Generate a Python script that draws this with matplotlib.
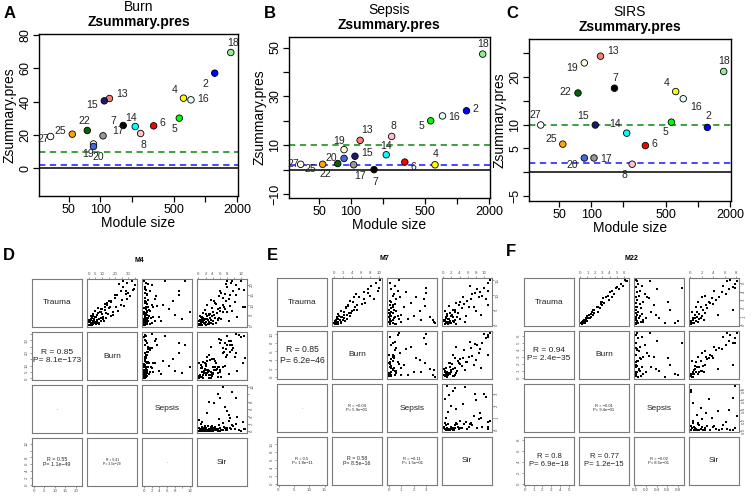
import matplotlib
matplotlib.use('Agg')
import numpy as np
import matplotlib.pyplot as plt
from matplotlib.ticker import NullLocator

plt.rcParams['font.family'] = ['Liberation Sans', 'DejaVu Sans']

W, H = 752, 500

# ---- module preservation data (panels A-C) ----
modules = [2, 4, 5, 6, 7, 8, 13, 14, 15, 16, 17, 18, 19, 20, 22, 25, 27]
module_colors = ['#0000FF', '#FFFF00', '#00FF00', '#FF0000', '#000000', '#FFC0CB',
                 '#FA8072', '#00FFFF', '#191970', '#E0FFFF', '#999999', '#90EE90',
                 '#FFFFE0', '#4169E1', '#006400', '#FFA500', '#FFFFFF']
module_size = [1230, 620, 565, 322, 165, 242, 122, 215, 109, 730, 106, 1750, 86, 86, 75, 54, 33.5]

z_burn = [57, 42, 30, 25.4, 25.6, 20.8, 41.8, 25, 40.4, 41, 19.4, 69.4, 14.5, 13, 22.6, 20.4, 19]
z_sepsis = [24.1, 2.0, 20, 3.1, 0.0, 13.6, 12, 6.1, 5.5, 22, 2.0, 47.3, 8.2, 4.6, 2.5, 2.2, 2.2]
z_sirs = [9.4, 16.9, 10.5, 5.6, 17.6, 1.7, 24.3, 8.2, 9.9, 15.4, 3.0, 21.1, 22.9, 3.0, 16.6, 5.9, 9.9]

# label offsets in pixels (dx, dy) for each module
off_burn = [(-9, -11), (-9, 8), (-5, -11), (9, 3), (-10, 4), (3, -11), (13, 5), (-4, 9), (-12, -4),
            (12, 1), (15, 5), (2, 10), (-5, -10), (5, -11), (-3, 10), (-12, 3), (-7, -2)]
off_sepsis = [(9, 2), (1, 11), (-9, -5), (9, -5), (1, -12), (2, 10), (7, 10), (0, 9), (12, 3),
              (12, -1), (6, -11), (0, 10), (-5, 9), (-13, 0), (-12, -10), (-12, -5), (-7, 0)]
off_sirs = [(1, 11), (-9, 9), (-6, -10), (9, 2), (1, 10), (-8, -11), (13, 5), (-12, 9), (-12, 9),
            (13, -8), (12, -1), (0, 10), (-12, -5), (-12, -7), (-13, 1), (-12, 5), (-5, 10)]

# ---- gene-level data for the pairs plots (panels D-F) ----
m4_trauma = [0.5, 1.0, 1.2, 0.3, 2.0, 1.5, 2.5, 0.8, 3.0, 2.2, 3.5, 1.8, 4.0, 0.6, 2.8, 4.5, 3.2, 5.0,
             1.4, 5.5, 3.8, 6.0, 2.6, 4.2, 5.8, 0.9, 3.6, 4.8, 6.5, 2.0, 7.0, 1.1, 5.2, 7.5, 3.4,
             8.0, 9.0, 8.5, 10.0, 6.8, 11.0, 9.5, 12.0, 7.2, 10.5, 13.0, 11.5, 8.8, 12.5, 13.5,
             15.0, 16.0, 17.0, 18.0, 15.5, 19.0, 20.0, 21.0, 22.0, 20.5, 17.5, 14.5,
             21.7, 22.0, 17.0, 15.0, 12.0, 8.0, 5.0, 3.0, 6.5, 10.0, 2.0, 4.0, 9.0, 9.0,
             0.2, 1.6, 0.4, 2.3, 1.9, 3.3, 0.7, 2.7, 4.4, 1.3, 3.9, 0.1, 2.4, 5.6, 1.7, 3.1, 4.6, 0.9, 6.2, 2.9]
m4_burn = [2.5, 1.5, 4.6, 2.0, 0.8, 6.4, 1.8, 7.5, 4.2, 9.0, 2.8, 0.5, 10.5, 5.2, 6.2, 1.8, 11.0, 6.5,
           8.2, 3.0, 13.0, 7.2, 0.3, 4.8, 14.8, 3.4, 9.0, 16.5, 8.8, 11.8, 5.0, 7.0, 18.0, 12.5, 1.5,
           9.0, 20.5, 15.0, 24.0, 18.0, 13.5, 26.5, 16.5, 22.0, 12.0, 29.0, 17.0, 7.0, 25.0, 20.0,
           21.0, 30.0, 24.0, 34.0, 28.0, 26.0, 35.0, 29.0, 32.5, 23.0, 33.5, 31.0,
           33.0, 26.0, 28.0, 20.0, 15.0, 10.0, 6.0, 4.0, 9.0, 14.0, 3.5, 5.5, 12.0, 16.0,
           0.3, 3.0, 2.6, 0.9, 5.8, 4.0, 1.8, 6.3, 2.8, 5.2, 9.0, 1.0, 4.0, 10.0, 0.2, 8.0, 3.6, 2.9, 12.8, 1.1]
m4_sepsis = [0.2, 0.1, 0.4, 0.0, 0.3, 0.8, 0.2, 0.5, 0.1, 1.2, 0.6, 0.3, 0.2, 1.5, 0.9, 0.4, 0.1, 0.7,
             2.0, 0.3, 1.0, 0.5, 0.0, 2.5, 0.2, 0.6, 1.8, 0.4, 0.1, 3.0, 0.8, 0.2, 0.5, 1.4, 0.3,
             0.6, 1.2, 0.3, 2.2, 0.9, 0.4, 3.5, 0.2, 1.6, 0.7, 2.8, 0.5, 0.1, 1.1, 0.3,
             0.8, 0.2, 1.5, 0.4, 0.9, 0.3, 2.0, 0.6, 0.1, 1.0, 0.5, 3.2,
             5.4, 10.6, 9.1, 9.0, 7.5, 6.5, 8.0, 10.0, 12.0, 5.0, 4.5, 3.8, 2.5, 0.5,
             0.1, 0.0, 0.2, 0.5, 0.1, 0.0, 0.9, 0.3, 0.2, 0.6, 1.1, 0.4, 0.8, 0.1, 0.2, 0.5, 1.3, 0.0, 0.6, 0.1]
m4_sir = [0.3, 0.8, 1.5, 0.5, 1.0, 2.2, 0.4, 1.8, 2.5, 0.9, 3.2, 1.2, 0.7, 2.8, 1.6, 3.8, 2.0, 4.5,
          0.6, 2.9, 1.4, 5.2, 3.6, 1.1, 3.3, 4.2, 5.8, 2.4, 4.0, 0.2, 6.0, 5.0, 3.0, 1.8, 6.5,
          5.5, 7.2, 3.8, 6.8, 8.0, 4.6, 9.0, 7.8, 9.5, 5.0, 8.5, 10.2, 6.2, 3.5, 7.0,
          8.8, 6.5, 9.8, 11.5, 7.5, 8.2, 10.5, 9.2, 12.0, 7.8, 12.8, 5.8,
          8.0, 9.5, 6.0, 10.5, 4.5, 7.5, 3.0, 5.5, 6.8, 2.5, 8.5, 11.0, 12.5, 13.2,
          0.1, 1.3, 2.0, 0.7, 3.0, 1.7, 0.2, 2.6, 0.5, 3.4, 4.8, 1.0, 4.0, 2.2, 2.9, 0.9, 3.9, 3.1, 1.3, 5.4]

m7_trauma = [0.3, 0.8, 1.2, 0.5, 1.8, 2.2, 1.0, 2.8, 0.2, 3.2, 1.5, 2.5, 3.8, 0.7, 4.2, 1.9, 3.5, 4.8, 2.0, 5.5,
             5.0, 3.0, 6.0, 6.5, 2.8, 7.0, 5.8, 7.8, 8.5, 4.5, 8.0, 9.2, 7.2, 9.8, 10.5, 11.0, 8.8, 12.0, 11.5, 13.0,
             12.5, 14.0, 15.2, 0.5, 1.4, 2.4, 6.2, 9.5, 10.8, 1.6, 0.9, 3.4, 6.8, 0.4, 1.1, 2.6, 0.1, 3.9, 4.6, 1.3]
m7_burn = [0.2, 0.9, 0.5, 1.6, 1.0, 2.2, 0.3, 1.2, 0.9, 3.0, 2.0, 1.5, 3.4, 0.4, 2.2, 3.0, 1.0, 4.5, 0.6, 2.6,
           5.2, 3.6, 4.8, 3.2, 1.2, 6.2, 2.8, 4.2, 6.8, 4.0, 3.6, 5.6, 7.0, 8.0, 5.0, 6.6, 9.0, 7.5, 9.8, 8.2,
           10.0, 9.4, 10.3, 0.0, 0.5, 1.9, 3.2, 4.4, 7.6, 1.3, 1.7, 2.2, 5.2, 0.7, 0.2, 0.8, 0.5, 3.8, 1.5, 2.4]
m7_sepsis = [0.1, 0.0, 0.2, 0.3, 0.1, 0.4, 0.0, 0.2, 0.6, 0.1, 0.3, 0.5, 0.0, 1.0, 0.2, 0.8, 0.1, 0.4, 1.5, 0.2,
             0.0, 0.7, 0.3, 0.1, 2.0, 0.5, 1.2, 0.2, 0.6, 2.5, 0.1, 0.9, 1.8, 0.3, 0.4, 1.4, 2.8, 0.2, 0.7, 0.5,
             3.0, 0.1, 0.8, 3.7, 3.5, 3.3, 2.9, 2.2, 3.0, 2.6, 3.6, 1.0, 0.3, 0.1, 0.2, 0.0, 0.5, 0.3, 0.6, 0.1]
m7_sir = [0.5, 1.2, 0.3, 2.0, 1.5, 0.8, 2.6, 1.0, 3.2, 2.2, 0.2, 3.5, 1.8, 0.6, 2.8, 4.0, 0.9, 3.0, 1.3, 4.5,
          2.4, 5.5, 6.2, 3.8, 2.0, 5.0, 7.5, 4.2, 6.8, 8.0, 5.8, 8.8, 3.2, 9.5, 7.0, 9.0, 10.5, 8.2, 11.0, 6.5,
          9.8, 10.8, 11.4, 1.0, 3.0, 2.5, 1.5, 4.8, 7.8, 0.4, 5.2, 9.2, 10.9, 1.8, 2.4, 0.7, 1.1, 3.6, 0.4, 1.6]

m22_trauma = [0.1, 0.2, 0.3, 0.4, 0.5, 0.6, 0.7, 0.8, 0.9, 1.0, 1.1, 1.2, 1.3, 1.4, 1.5, 1.6, 1.8, 2.0, 2.2, 2.4,
              2.5, 2.6, 2.8, 3.0, 3.2, 3.4, 3.5, 3.7, 3.9, 4.1, 4.3, 4.5, 4.7, 4.9, 5.2, 5.4, 4.4, 0.5, 0.3, 1.8,
              0.2, 2.7, 0.8, 1.2, 0.6, 0.9, 2.1, 3.3, 5.3, 0.4]
m22_burn = [0.3, 0.2, 0.6, 0.3, 0.9, 0.5, 0.8, 1.3, 0.8, 1.5, 1.0, 1.7, 1.5, 1.9, 1.6, 2.4, 1.7, 2.7, 2.4, 3.0,
            2.8, 3.3, 3.0, 3.9, 3.1, 4.3, 3.8, 4.6, 4.1, 4.4, 5.3, 5.0, 5.8, 5.6, 6.3, 6.1, 4.9, 0.4, 0.5, 1.9,
            0.1, 2.8, 1.0, 1.2, 0.8, 1.1, 2.3, 3.5, 6.4, 0.6]
m22_sepsis = [0.02, 0.05, 0.01, 0.10, 0.03, 0.15, 0.02, 0.06, 0.20, 0.01, 0.08, 0.04, 0.12, 0.02, 0.30, 0.05,
              0.01, 0.10, 0.03, 0.35, 0.08, 0.02, 0.15, 0.04, 0.25, 0.01, 0.06, 0.18, 0.03, 0.09, 0.40, 0.02,
              0.12, 0.05, 0.28, 0.01, 0.88, 0.80, 0.75, 0.65, 0.55, 0.62, 0.45, 0.38, 0.02, 0.07, 0.01, 0.22,
              0.03, 0.14]
m22_sir = [0.1, 0.3, 0.6, 0.2, 1.0, 0.4, 1.5, 0.8, 0.5, 1.2, 2.0, 0.9, 1.6, 2.6, 1.1, 0.3, 2.2, 3.0, 1.8, 2.8,
           4.0, 3.5, 1.4, 4.5, 3.8, 5.0, 2.5, 6.2, 5.5, 4.2, 6.8, 7.5, 5.8, 7.9, 8.2, 7.0, 7.8, 0.2, 0.1, 7.5,
           0.5, 3.2, 1.8, 4.8, 2.4, 0.6, 1.0, 2.0, 6.5, 1.3]

var_names = ['Trauma', 'Burn', 'Sepsis', 'Sir']

m4_ticks = [[0, 5, 10, 15, 20], [0, 5, 10, 15, 20, 25, 30, 35], [0, 2, 4, 6, 8, 10, 12], [0, 2, 4, 6, 8, 10, 12]]
m4_labels = [['0', '5', '10', '15', '20'], ['0', '5', '10', '', '20', '', '30', ''],
             ['0', '2', '4', '6', '8', '', '12'], ['0', '2', '4', '6', '8', '', '12']]
m7_ticks = [[0, 5, 10, 15], [0, 2, 4, 6, 8, 10], [0, 1, 2, 3], [0, 2, 4, 6, 8, 10]]
m7_labels = [['0', '5', '10', '15'], ['0', '2', '4', '6', '8', '10'], ['0', '1', '2', '3'],
             ['0', '2', '4', '6', '8', '10']]
m22_ticks = [[0, 1, 2, 3, 4, 5], [0, 1, 2, 3, 4, 5, 6], [0, 0.2, 0.4, 0.6, 0.8], [0, 2, 4, 6, 8]]
m22_labels = [['0', '1', '2', '3', '4', '5'], ['0', '1', '2', '3', '4', '5', '6'],
              ['0.0', '0.2', '0.4', '0.6', '0.8'], ['0', '2', '4', '6', '8']]

m4_cor = {(1, 0): ('R = 0.85\nP= 8.1e\u2212173', 6), (2, 0): ('-', 2.5),
          (3, 0): ('R = 0.55\nP= 1.1e\u221249', 3.8), (3, 1): ('R = 0.41\nP= 3.5e\u221229', 2.4),
          (3, 2): ('-', 2.2)}
m7_cor = {(1, 0): ('R = 0.85\nP= 6.2e\u221246', 6.2), (2, 0): ('-', 2.2),
          (2, 1): ('R = \u22120.04\nP= 5.9e\u221201', 3), (3, 0): ('R = 0.5\nP= 1.8e\u221211', 3),
          (3, 1): ('R = 0.58\nP= 8.5e\u221216', 3.8), (3, 2): ('R = \u22120.11\nP= 1.5e\u221201', 3)}
m22_cor = {(1, 0): ('R = 0.94\nP= 2.4e\u221235', 6), (2, 1): ('R = \u22120.01\nP= 9.4e\u221201', 3),
           (3, 0): ('R = 0.8\nP= 6.9e\u221218', 5.5), (3, 1): ('R = 0.77\nP= 1.2e\u221215', 5.5),
           (3, 2): ('R = \u22120.02\nP= 8.5e\u221201', 3)}


def px_axes(fig, x0, y0, x1, y1):
    return fig.add_axes([x0 / W, 1 - y1 / H, (x1 - x0) / W, (y1 - y0) / H])


def zsummary_panel(fig, box, zvals, offsets, test_name, ylim, yticks, ylabels):
    ax = px_axes(fig, *box)
    ax.axhline(0, color='black', lw=1.1, zorder=1)
    ax.axhline(2, color='#3a3aff', lw=1.3, ls=(0, (3.5, 2.5)), zorder=1)
    ax.axhline(10, color='#2f9a2f', lw=1.3, ls=(0, (3.5, 2.5)), zorder=1)
    ax.scatter(module_size, zvals, s=22, c=module_colors, edgecolors='black', linewidths=0.6, zorder=3)
    for m, xv, yv, (dx, dy) in zip(modules, module_size, zvals, offsets):
        ax.annotate(str(m), (xv, yv), xytext=(dx, dy), textcoords='offset pixels',
                    ha='center', va='center', fontsize=7.5, color='#222222', zorder=4)
    ax.set_xscale('log')
    ax.set_xlim(26, 2050)
    ax.set_ylim(*ylim)
    ax.set_xticks([50, 100, 200, 500, 1000, 2000])
    ax.set_xticklabels(['50', '100', '', '500', '', '2000'])
    ax.xaxis.set_minor_locator(NullLocator())
    ax.set_yticks(yticks)
    ax.set_yticklabels(ylabels, rotation=90, va='center')
    ax.tick_params(direction='out', length=4, width=0.9, labelsize=9, pad=1.5)
    for sp in ax.spines.values():
        sp.set_linewidth(1.0)
    ax.text(0.5, 1.165, test_name, transform=ax.transAxes, ha='center', va='center', fontsize=10)
    ax.text(0.5, 1.075, 'Zsummary.pres', transform=ax.transAxes, ha='center', va='center',
            fontsize=10, fontweight='bold')
    ax.text(-0.148, 0.5, 'Zsummary.pres', transform=ax.transAxes, ha='center', va='center',
            rotation=90, fontsize=10)
    ax.text(0.5, -0.165, 'Module size', transform=ax.transAxes, ha='center', va='center', fontsize=10)
    return ax


def pairs_panel(fig, x0, y0, cols, ticks, labels, cor_texts, title):
    cw, ch, step_x, step_y = 50, 48, 55, 53
    lims = []
    for v in cols:
        lo, hi = min(v), max(v)
        r = hi - lo
        lims.append((lo - 0.04 * r, hi + 0.04 * r))
    for i in range(4):
        for j in range(4):
            left = x0 + j * step_x
            top = y0 + i * step_y
            ax = px_axes(fig, left, top, left + cw, top + ch)
            ax.set_xlim(lims[j])
            ax.set_ylim(lims[i])
            for sp in ax.spines.values():
                sp.set_color('#7a7a7a')
                sp.set_linewidth(0.8)
            ax.set_xticks([])
            ax.set_yticks([])
            if i == j:
                ax.text(0.5, 0.5, var_names[i], transform=ax.transAxes, ha='center', va='center',
                        fontsize=6, color='#222222')
            elif j > i:
                ax.scatter(cols[j], cols[i], s=2.2, c='black', marker='s', linewidths=0)
            else:
                if (i, j) in cor_texts:
                    txt, fs = cor_texts[(i, j)]
                    ax.text(0.5, 0.5, txt, transform=ax.transAxes, ha='center', va='center',
                            fontsize=fs, color='#222222', linespacing=1.2)
            tp = dict(length=1.5, width=0.4, labelsize=3.2, pad=0.8, colors='#555555')
            if i == 0 and j in (1, 3):
                ax.set_xticks(ticks[j])
                ax.set_xticklabels(labels[j])
                ax.tick_params(axis='x', top=True, bottom=False, labeltop=True, labelbottom=False, **tp)
            if i == 3 and j in (0, 2):
                ax.set_xticks(ticks[j])
                ax.set_xticklabels(labels[j])
                ax.tick_params(axis='x', **tp)
            if j == 0 and i in (1, 3):
                ax.set_yticks(ticks[i])
                ax.set_yticklabels(labels[i], rotation=90, va='center')
                ax.tick_params(axis='y', **tp)
            if j == 3 and i in (0, 2):
                ax.set_yticks(ticks[i])
                ax.set_yticklabels(labels[i], rotation=90, va='center')
                ax.tick_params(axis='y', left=False, right=True, labelleft=False, labelright=True, **tp)
    cx = x0 + (3 * step_x + cw) / 2
    fig.text(cx / W, 1 - (y0 - 19) / H, title, ha='center', va='center', fontsize=5, fontweight='bold')


fig = plt.figure(figsize=(W / 100, H / 100), dpi=100)

zsummary_panel(fig, (39, 34, 238, 196), z_burn, off_burn, 'Burn', (-16.7, 80.5),
               [0, 20, 40, 60, 80], ['0', '20', '40', '60', '80'])
zsummary_panel(fig, (289, 37, 490, 198), z_sepsis, off_sepsis, 'Sepsis', (-11.6, 54.3),
               [-10, 0, 10, 20, 30, 40, 50], ['\u221210', '', '10', '', '30', '', '50'])
zsummary_panel(fig, (529, 39, 731, 201), z_sirs, off_sirs, 'SIRS', (-6.0, 27.9),
               [-5, 0, 5, 10, 15, 20, 25], ['\u22125', '', '5', '10', '', '20', ''])

pairs_panel(fig, 32, 279, [m4_trauma, m4_burn, m4_sepsis, m4_sir], m4_ticks, m4_labels, m4_cor, 'M4')
pairs_panel(fig, 277, 278, [m7_trauma, m7_burn, m7_sepsis, m7_sir], m7_ticks, m7_labels, m7_cor, 'M7')
pairs_panel(fig, 524, 278, [m22_trauma, m22_burn, m22_sepsis, m22_sir], m22_ticks, m22_labels, m22_cor, 'M22')

for letter, (lx, ly) in zip('ABCDEF', [(10, 14), (270, 13), (512, 14), (9, 255), (272, 255), (511, 252)]):
    fig.text(lx / W, 1 - ly / H, letter, ha='center', va='center', fontsize=12, fontweight='bold')

fig.savefig('out.png', dpi=100)
